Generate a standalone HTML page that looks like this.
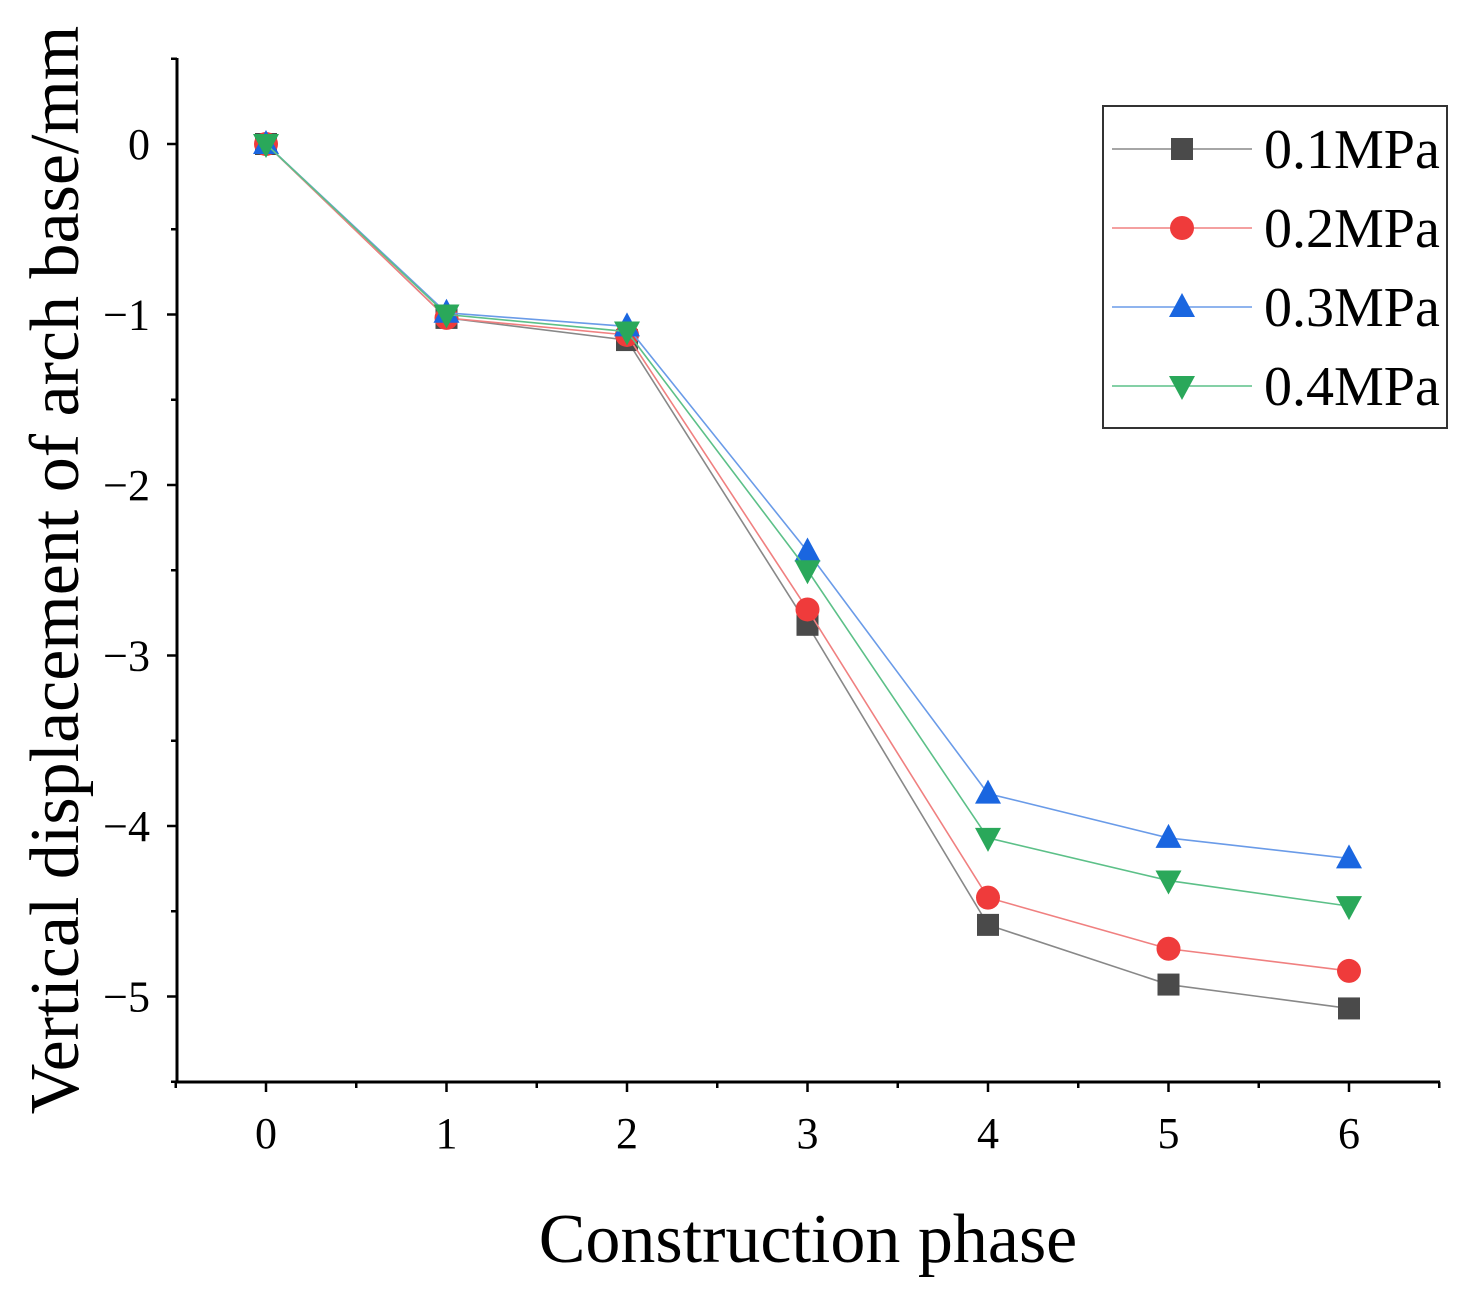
<!DOCTYPE html>
<html><head><meta charset="utf-8"><style>
body{margin:0;background:#fff}
svg{display:block;font-family:"Liberation Serif",serif}
</style></head><body>
<svg id="chart" width="1459" height="1295" xmlns="http://www.w3.org/2000/svg">
<g id="axes"></g>
<g id="series"></g>
<text x="808" y="1262" font-size="70" text-anchor="middle">Construction phase</text>
<text transform="translate(78,570) rotate(-90)" font-size="70" text-anchor="middle">Vertical displacement of arch base/mm</text>
<g id="legend"></g>
</svg>
<script>
const phases=[0,1,2,3,4,5,6];
const labels=["0.1MPa","0.2MPa","0.3MPa","0.4MPa"];
const s01=[0,-1.02,-1.15,-2.82,-4.58,-4.93,-5.07];
const s02=[0,-1.02,-1.12,-2.73,-4.42,-4.72,-4.85];
const s03=[0,-0.99,-1.07,-2.39,-3.81,-4.07,-4.19];
const s04=[0,-1.00,-1.10,-2.50,-4.07,-4.32,-4.47];
const yTicks=[0,-1,-2,-3,-4,-5];
const xTicks=[0,1,2,3,4,5,6];

const NS="http://www.w3.org/2000/svg";
const X=v=>266+v*180.5, Y=v=>144-v*170.5;
function mk(t,a,p){const e=document.createElementNS(NS,t);for(const k in a)e.setAttribute(k,a[k]);p.appendChild(e);return e;}
const ax=document.getElementById('axes');
let l=mk('line',{x1:177,y1:58,x2:177,y2:1083,stroke:'#000','stroke-width':3},ax);


l=mk('line',{x1:175,y1:1082,x2:1440,y2:1082,stroke:'#000','stroke-width':3},ax);


for(let v=-5.5;v<=0.51;v+=0.5){const y=Y(v);const maj=Math.abs(v-Math.round(v))<1e-6;
 l=mk('line',{x1:177-(maj?10:6),y1:y,x2:177,y2:y,stroke:'#000','stroke-width':2.5},ax);
 
 }
yTicks.forEach(v=>{const t=mk('text',{x:150,y:Y(v)+15,'font-size':44,'text-anchor':'end'},ax);t.textContent=v===0?'0':'\u2212'+Math.abs(v);
 
 });
for(let v=-0.5;v<=6.51;v+=0.5){const x=X(v);const maj=Math.abs(v-Math.round(v))<1e-6;
 l=mk('line',{x1:x,y1:1082,x2:x,y2:1082+(maj?10:6),stroke:'#000','stroke-width':2.5},ax);
 
 }
xTicks.forEach(v=>{const t=mk('text',{x:X(v),y:1148,'font-size':44,'text-anchor':'middle'},ax);t.textContent=v;
 
 });

const colors=["#4a4a4a","#ef3b3b","#1a66e0","#2aa85a"];
const lineCols=["#888","#f08080","#6a9be8","#5cc088"];
const shapes=["sq","ci","up","dn"];
function marker(p,shape,x,y,c){let e;
 if(shape==='sq')e=mk('rect',{x:x-11,y:y-11,width:22,height:22,fill:c},p);
 else if(shape==='ci')e=mk('circle',{cx:x,cy:y,r:12,fill:c},p);
 else if(shape==='up')e=mk('polygon',{points:`${x},${y-14} ${x+13},${y+10} ${x-13},${y+10}`,fill:c},p);
 else e=mk('polygon',{points:`${x},${y+14} ${x+13},${y-10} ${x-13},${y-10}`,fill:c},p);
 return e;}
const sg=document.getElementById('series');
[s01,s02,s03,s04].forEach((s,i)=>{
 const g=mk('g',{},sg);
 
 
 const pl=mk('polyline',{points:s.map((v,j)=>X(phases[j])+','+Y(v)).join(' '),fill:'none',stroke:lineCols[i],'stroke-width':1.6},g);
 
 
 s.forEach((v,j)=>{const m=marker(g,shapes[i],X(phases[j]),Y(v),colors[i]);
  
  });
});
const lg=document.getElementById('legend');
const box=mk('rect',{x:1103,y:106,width:344,height:322,fill:'#fff',stroke:'#333','stroke-width':2},lg);


labels.forEach((lab,i)=>{const y=149+i*79;
 const g=mk('g',{},lg);
 
 
 mk('line',{x1:1112,y1:y,x2:1252,y2:y,stroke:lineCols[i],'stroke-width':1.6},g);
 marker(g,shapes[i],1182,y,colors[i]);
 const t=mk('text',{x:1264,y:y+19,'font-size':56},g);t.textContent=lab;});
</script>
</body></html>
